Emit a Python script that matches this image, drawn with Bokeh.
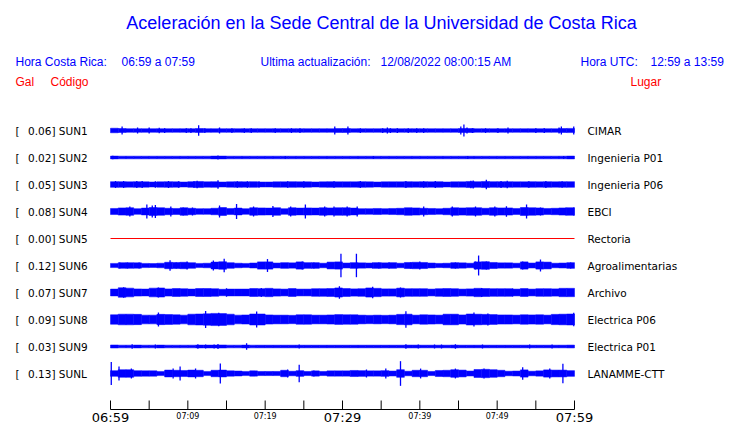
from bokeh.plotting import figure
from bokeh.models import Range1d, ColumnDataSource
from bokeh.core.properties import value
from bokeh.embed import file_html
from bokeh.resources import INLINE

# ---------------- data ----------------
title_text = "Aceleración en la Sede Central de la Universidad de Costa Rica"
cr_window = "06:59 a 07:59"
utc_window = "12:59 a 13:59"
updated = "12/08/2022 08:00:15 AM"

stations = ["SUN1", "SUN2", "SUN3", "SUN4", "SUN5", "SUN6", "SUN7", "SUN8", "SUN9", "SUNL"]
places = ["CIMAR", "Ingenieria P01", "Ingenieria P06", "EBCI", "Rectoria",
          "Agroalimentarias", "Archivo", "Electrica P06", "Electrica P01", "LANAMME-CTT"]
peak_gal = [0.06, 0.02, 0.05, 0.08, 0.00, 0.12, 0.07, 0.09, 0.03, 0.13]

# envelope half-amplitude per minute (mGal), minutes 0..59 of the window
env_sun1 = [24, 21, 19, 19, 19, 19, 19, 19, 19, 19, 19, 21, 19, 19, 19, 19, 19, 19, 19, 19,
            19, 19, 19, 19, 19, 19, 19, 19, 19, 20, 21, 19, 19, 19, 19, 19, 19, 19, 19, 19,
            19, 19, 19, 19, 19, 21, 21, 19, 19, 19, 19, 19, 19, 19, 19, 19, 19, 19, 21, 22]
env_sun2 = [15, 14, 14, 14, 14, 14, 14, 14, 14, 14, 14, 14, 14, 15, 15, 14, 14, 14, 14, 14,
            14, 14, 14, 14, 14, 14, 14, 14, 14, 14, 14, 14, 14, 14, 14, 14, 14, 14, 14, 14,
            14, 14, 14, 14, 14, 14, 14, 14, 14, 14, 14, 14, 14, 14, 14, 14, 14, 14, 14, 15]
env_sun3 = [30, 30, 28, 30, 28, 26, 28, 30, 28, 26, 30, 32, 28, 30, 26, 28, 30, 28, 30, 26,
            26, 28, 28, 30, 28, 28, 26, 28, 30, 28, 28, 28, 30, 28, 26, 28, 28, 28, 30, 28,
            30, 28, 30, 26, 28, 28, 32, 30, 32, 30, 30, 30, 28, 28, 30, 28, 30, 28, 30, 30]
env_sun4 = [32, 38, 40, 30, 36, 42, 40, 34, 32, 40, 34, 30, 30, 34, 42, 32, 36, 30, 40, 38,
            36, 40, 30, 40, 36, 38, 36, 40, 38, 40, 40, 36, 30, 30, 32, 30, 32, 34, 40, 38,
            34, 32, 30, 34, 40, 38, 40, 40, 34, 40, 38, 38, 32, 42, 40, 38, 32, 34, 38, 40]
env_sun6 = [22, 30, 30, 28, 22, 20, 24, 34, 32, 34, 30, 22, 24, 36, 40, 30, 24, 22, 26, 38,
            38, 26, 30, 28, 38, 30, 30, 24, 36, 38, 26, 30, 28, 26, 30, 28, 30, 24, 32, 34,
            32, 26, 22, 24, 30, 28, 24, 38, 40, 32, 28, 28, 24, 38, 26, 38, 36, 24, 26, 30]
env_sun7 = [36, 50, 46, 38, 36, 46, 48, 38, 42, 40, 36, 42, 42, 40, 34, 36, 36, 36, 42, 40,
            44, 38, 36, 42, 36, 36, 40, 40, 42, 48, 42, 38, 40, 48, 44, 38, 38, 46, 40, 40,
            40, 36, 40, 42, 40, 36, 38, 44, 42, 40, 40, 40, 36, 42, 36, 40, 40, 38, 44, 44]
env_sun8 = [50, 56, 56, 54, 46, 46, 54, 52, 50, 46, 56, 58, 60, 64, 62, 56, 46, 48, 58, 58,
            48, 46, 46, 44, 50, 50, 46, 46, 48, 52, 50, 50, 46, 44, 46, 44, 46, 54, 56, 46,
            50, 48, 46, 56, 56, 48, 58, 56, 54, 52, 48, 48, 46, 50, 48, 50, 46, 54, 56, 58]
env_sun9 = [16, 14, 14, 15, 14, 14, 15, 14, 14, 14, 14, 15, 15, 15, 16, 14, 14, 15, 14, 14,
            14, 14, 14, 14, 14, 14, 14, 14, 14, 14, 14, 14, 14, 14, 14, 14, 14, 14, 15, 15,
            14, 14, 14, 14, 15, 14, 14, 14, 14, 14, 14, 14, 14, 14, 14, 14, 14, 14, 14, 15]
env_sunl = [30, 40, 40, 30, 28, 28, 22, 36, 34, 32, 36, 34, 22, 34, 36, 28, 26, 22, 28, 22,
            22, 22, 34, 24, 30, 22, 28, 22, 28, 28, 28, 32, 30, 28, 28, 30, 26, 40, 24, 34,
            34, 22, 32, 34, 40, 36, 26, 42, 44, 40, 34, 24, 26, 38, 24, 28, 38, 36, 36, 30]

# isolated peaks: (minute, mGal)
spk_sun1 = [(1.5, 42), (3.5, 32), (5.0, 32), (6.3, 30), (7.0, 25), (9.8, 25), (10.4, 25),
            (11.4, 56), (12.2, 25), (14.1, 32), (15.7, 25), (17.3, 25), (18.2, 25), (21.3, 25),
            (23.4, 25), (24.5, 25), (29.0, 42), (30.7, 42), (32.3, 25), (35.2, 25), (35.8, 32),
            (36.2, 25), (37.1, 25), (38.5, 25), (39.6, 25), (40.5, 25), (45.3, 42), (45.7, 63),
            (46.1, 32), (46.8, 25), (48.5, 25), (50.1, 25), (51.4, 32), (55.0, 25), (56.1, 25),
            (58.0, 32), (58.3, 42), (59.9, 42)]
spk_sun2 = [(0.3, 18), (13.9, 21), (22.6, 17), (34.0, 17), (46.2, 17), (58.6, 17)]
spk_sun3 = [(0.65, 37), (1.7, 37), (3.4, 37), (4.1, 37), (5.8, 35), (7.5, 37), (8.8, 35),
            (10.8, 37), (11.2, 40), (13.9, 45), (16.4, 35), (17.7, 35), (19.2, 35), (22.9, 35),
            (25.0, 35), (28.9, 35), (32.3, 37), (38.2, 37), (40.5, 35), (42.0, 37), (46.6, 40),
            (46.9, 42), (48.6, 50), (50.5, 37), (51.3, 40), (54.1, 35), (56.3, 37), (58.4, 35)]
spk_sun4 = [(2.5, 52), (4.7, 74), (5.4, 63), (5.8, 68), (7.8, 52), (9.4, 42), (10.6, 42),
            (14.1, 63), (16.3, 80), (18.5, 52), (21.0, 58), (23.3, 52), (25.2, 74), (27.7, 52),
            (28.9, 52), (30.6, 52), (31.9, 52), (40.5, 52), (44.2, 52), (47.2, 52), (49.7, 52),
            (51.2, 55), (53.8, 74), (55.6, 42), (58.9, 42), (59.9, 42)]
spk_sun6 = [(1.2, 32), (2.2, 32), (3.7, 32), (7.7, 56), (8.5, 32), (9.9, 42), (13.3, 52),
            (14.7, 70), (20.3, 68), (24.8, 42), (26.3, 32), (29.8, 123), (31.8, 123), (33.9, 32),
            (34.7, 32), (36.0, 32), (38.8, 32), (40.0, 42), (44.6, 32), (47.2, 42), (47.6, 105),
            (48.6, 42), (53.3, 42), (55.6, 63), (59.5, 32)]
spk_sun7 = [(1.7, 56), (6.2, 53), (15.0, 45), (19.5, 47), (29.6, 66), (33.9, 60), (37.5, 53),
            (48.0, 47), (52.0, 42)]
spk_sun8 = [(6.2, 74), (12.3, 90), (14.0, 72), (18.9, 84), (38.2, 87), (47.0, 74), (48.8, 63),
            (59.9, 70)]
spk_sun9 = [(2.8, 24), (5.8, 21), (11.3, 24), (12.3, 21), (13.4, 21), (13.9, 26), (17.6, 33),
            (24.4, 21), (38.2, 24), (39.8, 21), (41.9, 21), (42.8, 21), (44.6, 24), (48.1, 21),
            (54.2, 21), (57.1, 21)]
spk_sunl = [(0.1, 120), (1.1, 74), (2.7, 52), (8.1, 52), (9.0, 74), (11.0, 52), (14.2, 105),
            (22.9, 42), (24.4, 92), (26.3, 32), (33.1, 42), (35.6, 52), (37.5, 130), (40.1, 52),
            (44.6, 52), (48.3, 52), (53.3, 66), (56.8, 52), (58.5, 102)]

envelopes = [env_sun1, env_sun2, env_sun3, env_sun4, None, env_sun6, env_sun7, env_sun8, env_sun9, env_sunl]
spikes = [spk_sun1, spk_sun2, spk_sun3, spk_sun4, None, spk_sun6, spk_sun7, spk_sun8, spk_sun9, spk_sunl]

window_minutes = 60
tick_minutes = [0, 5, 10, 15, 20, 25, 30, 35, 40, 45, 50, 55, 60]
label_minutes = [0, 10, 20, 30, 40, 50, 60]
label_texts = ["06:59", "07:09", "07:19", "07:29", "07:39", "07:49", "07:59"]
major_labels = ["06:59", "07:29", "07:59"]

# ---------------- layout ----------------
W, H = 740, 423
X0 = 110                   # screen px of minute 0
X1 = 574                   # screen px of minute 60
PXMIN = (X1 - X0) / window_minutes
ROW0 = 130
ROW_STEP = 27
PX_PER_GAL = 95.0
BLUE = "#0000ff"
RED = "#ff0000"
SANS = "Liberation Sans"
DV = "DejaVu Sans"


def sx(px):
    return (px - X0) / PXMIN


p = figure(width=W, height=H, output_backend="svg", toolbar_location=None,
           x_range=Range1d(-X0 / PXMIN, (W - X0) / PXMIN), y_range=Range1d(H, 0),
           x_axis_type=None, y_axis_type=None, min_border=0,
           min_border_left=0, min_border_right=0, min_border_top=0, min_border_bottom=0)
p.outline_line_color = None
p.grid.visible = False
p.background_fill_color = "white"
p.border_fill_color = "white"

# ---- titles / headers ----
p.text(x=[sx(381)], y=[22], text=[title_text], text_font=value(SANS), text_font_size="18px",
       text_color=BLUE, text_align="center", text_baseline="middle")
hdr_y = 61
p.text(x=[sx(15), sx(121), sx(260), sx(380), sx(580), sx(650)], y=[hdr_y] * 6,
       text=["Hora Costa Rica:", cr_window, "Ultima actualización:", updated, "Hora UTC:", utc_window],
       text_font=value(SANS), text_font_size="12px", text_color=BLUE,
       text_align="left", text_baseline="middle")
p.text(x=[sx(15), sx(50), sx(630)], y=[81] * 3, text=["Gal", "Código", "Lugar"],
       text_font=value(SANS), text_font_size="12px", text_color=RED,
       text_align="left", text_baseline="middle")

# ---- rows ----
row_y = [ROW0 + ROW_STEP * i for i in range(len(stations))]
p.text(x=[sx(15)] * len(stations), y=row_y, text=["["] * len(stations),
       text_font=value(DV), text_font_size="10.5px", text_color="black",
       text_align="left", text_baseline="middle")
p.text(x=[sx(27.5)] * len(stations), y=row_y,
       text=["%.2f] %s" % (g, s) for g, s in zip(peak_gal, stations)],
       text_font=value(DV), text_font_size="10.5px", text_color="black",
       text_align="left", text_baseline="middle")
p.text(x=[sx(587)] * len(stations), y=row_y, text=places,
       text_font=value(DV), text_font_size="10.5px", text_color="black",
       text_align="left", text_baseline="middle")

for i, yc in enumerate(row_y):
    env = envelopes[i]
    if env is None:
        p.line([0, window_minutes], [yc, yc], line_color=RED, line_width=1)
        continue
    left = list(range(len(env)))
    right = [m + 1 for m in left]
    half = [e / 1000.0 * PX_PER_GAL for e in env]
    p.quad(left=left, right=right, top=[yc - h for h in half], bottom=[yc + h for h in half],
           fill_color=BLUE, line_color=BLUE, line_width=0.5)
    st = [t for t, a in spikes[i]]
    sa = [a / 1000.0 * PX_PER_GAL for t, a in spikes[i]]
    p.segment(x0=st, y0=[yc - a for a in sa], x1=st, y1=[yc + a for a in sa],
              line_color=BLUE, line_width=1.3)

# ---- time axis ----
AX_Y = 409
TICK_TOP = 400
p.line([tick_minutes[0], tick_minutes[-1]], [AX_Y, AX_Y], line_color="black", line_width=1)
p.segment(x0=tick_minutes, y0=[AX_Y] * len(tick_minutes), x1=tick_minutes,
          y1=[TICK_TOP] * len(tick_minutes), line_color="black", line_width=1)
sizes = ["13px" if t in major_labels else "8px" for t in label_texts]
ys = [416.5 if t in major_labels else 416 for t in label_texts]
lab_src = ColumnDataSource(dict(x=label_minutes, y=ys, text=label_texts, size=sizes))
p.text(x="x", y="y", text="text", text_font_size="size", source=lab_src, text_font=value(DV),
       text_color="black", text_align="center", text_baseline="middle")

open("out.html", "w").write(file_html(p, INLINE))
